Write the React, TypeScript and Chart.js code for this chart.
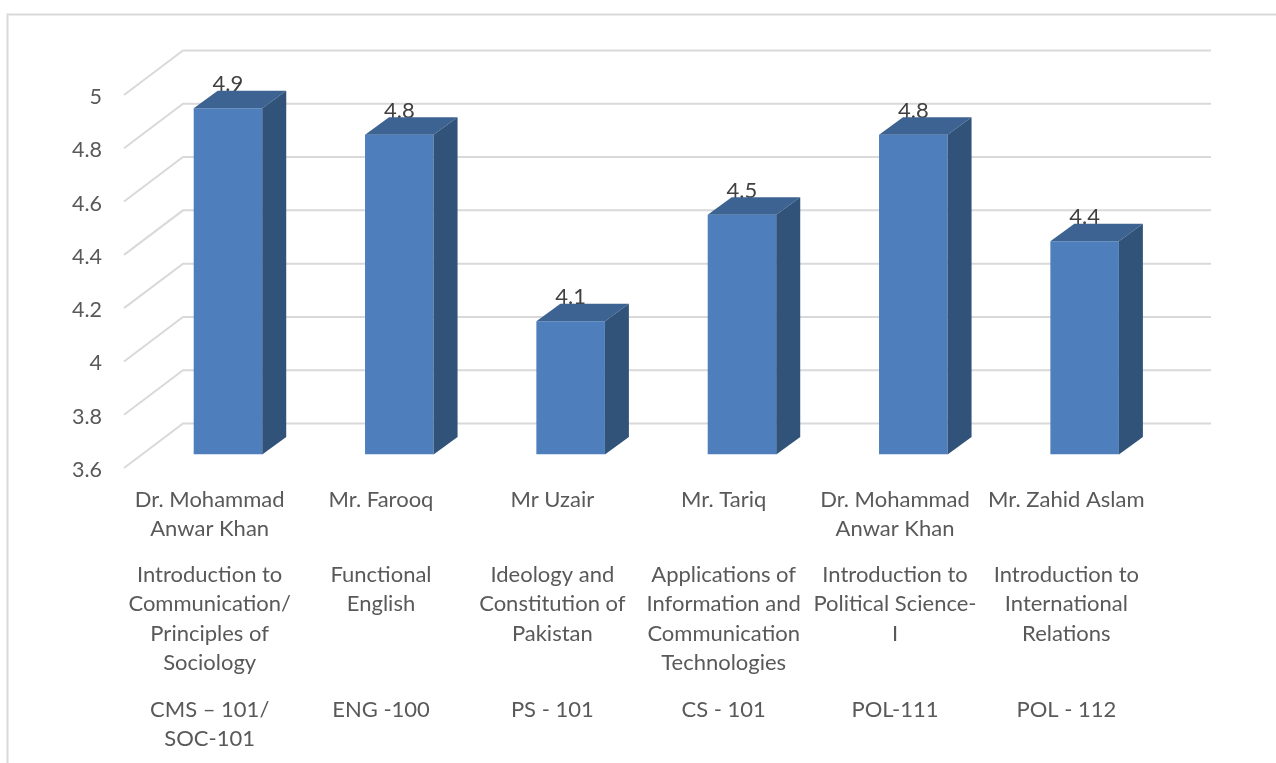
import React, { useEffect, useRef } from "react";
import { Chart, registerables } from "chart.js";

Chart.register(...registerables);

const instructors = [
  ["Dr. Mohammad", "Anwar Khan"],
  "Mr. Farooq",
  "Mr Uzair",
  "Mr. Tariq",
  ["Dr. Mohammad", "Anwar Khan"],
  "Mr. Zahid Aslam",
];
const courses = [
  ["Introduction to", "Communication/", "Principles of", "Sociology"],
  ["Functional", "English"],
  ["Ideology and", "Constitution of", "Pakistan"],
  ["Applications of", "Information and", "Communication", "Technologies"],
  ["Introduction to", "Political Science-", "I"],
  ["Introduction to", "International", "Relations"],
];
const codes = [
  ["CMS – 101/", "SOC-101"],
  "ENG -100",
  "PS - 101",
  "CS - 101",
  "POL-111",
  "POL - 112",
];
const ratings = [4.9, 4.8, 4.1, 4.5, 4.8, 4.4];
const AXIS_MIN = 3.6;
const AXIS_MAX = 5;

const FONT = "Lato, 'Noto Sans', sans-serif";
const GRID = "#d9d9d9";
const WALL_DX = 59;
const WALL_DY = -44.5;
const PLANE_DX = 18.3;
const PLANE_DY = -13.5;
const DEPTH_DX = 24;
const DEPTH_DY = -17.5;

const fakeThreeD = {
  id: "fakeThreeD",
  beforeDraw(chart: any) {
    const { ctx } = chart;
    ctx.save();
    ctx.strokeStyle = GRID;
    ctx.lineWidth = 2;
    ctx.beginPath();
    ctx.moveTo(7.5, 763);
    ctx.lineTo(7.5, 14.5);
    ctx.lineTo(1276, 14.5);
    ctx.stroke();
    ctx.restore();
  },
  beforeDatasetsDraw(chart: any) {
    const { ctx, chartArea, scales } = chart;
    ctx.save();
    ctx.strokeStyle = GRID;
    ctx.lineWidth = 2;
    scales.y.ticks.forEach((t: any) => {
      const y = scales.y.getPixelForValue(t.value);
      ctx.beginPath();
      ctx.moveTo(chartArea.left, y);
      ctx.lineTo(chartArea.left + WALL_DX, y + WALL_DY);
      ctx.lineTo(chartArea.right + WALL_DX, y + WALL_DY);
      ctx.stroke();
    });
    ctx.restore();
    ctx.save();
    ctx.translate(PLANE_DX, PLANE_DY);
  },
  afterDatasetsDraw(chart: any) {
    const { ctx } = chart;
    const meta = chart.getDatasetMeta(0);
    ctx.font = `22px ${FONT}`;
    ctx.fillStyle = "#404040";
    ctx.textAlign = "center";
    ctx.textBaseline = "middle";
    meta.data.forEach((bar: any, i: number) => {
      ctx.fillText(String(ratings[i]), bar.x, bar.y - 24);
    });
    meta.data.forEach((bar: any) => {
      const l = bar.x - bar.width / 2;
      const r = bar.x + bar.width / 2;
      ctx.fillStyle = "#3c6391";
      ctx.beginPath();
      ctx.moveTo(l, bar.y);
      ctx.lineTo(l + DEPTH_DX, bar.y + DEPTH_DY);
      ctx.lineTo(r + DEPTH_DX, bar.y + DEPTH_DY);
      ctx.lineTo(r, bar.y);
      ctx.closePath();
      ctx.fill();
      ctx.fillStyle = "#325379";
      ctx.beginPath();
      ctx.moveTo(r, bar.y);
      ctx.lineTo(r + DEPTH_DX, bar.y + DEPTH_DY);
      ctx.lineTo(r + DEPTH_DX, bar.base + DEPTH_DY);
      ctx.lineTo(r, bar.base);
      ctx.closePath();
      ctx.fill();
    });
    ctx.restore();
  },
};

const labelAxis = (labels: any[], weight: number, height: number, padding: number) => ({
  type: "category",
  position: "bottom",
  labels,
  weight,
  offset: true,
  grid: { display: false, drawTicks: false },
  border: { display: false },
  ticks: {
    autoSkip: false,
    maxRotation: 0,
    minRotation: 0,
    padding,
    color: "#595959",
    font: { family: FONT, size: 22, lineHeight: 1.34 },
  },
  afterFit(scale: any) {
    scale.height = height;
  },
});

export default function App() {
  const ref = useRef<HTMLCanvasElement>(null);
  useEffect(() => {
    const chart = new Chart(ref.current as HTMLCanvasElement, {
      type: "bar",
      data: {
        labels: instructors as any,
        datasets: [
          {
            data: ratings,
            base: AXIS_MIN,
            backgroundColor: "#4e7fbc",
            borderWidth: 0,
            barPercentage: 1,
            categoryPercentage: 0.4,
            xAxisID: "x",
            yAxisID: "y",
          } as any,
        ],
      },
      options: {
        responsive: false,
        animation: false,
        layout: { padding: { left: 0, top: 95, right: 124, bottom: 0 } },
        plugins: { legend: { display: false }, tooltip: { enabled: false } },
        scales: {
          x: labelAxis(instructors, 1, 92, 17),
          x2: labelAxis(courses, 2, 135, 0),
          x3: labelAxis(codes, 3, 68, 0),
          y: {
            type: "linear",
            min: AXIS_MIN,
            max: AXIS_MAX,
            grid: { display: false, drawTicks: false },
            border: { display: false },
            ticks: {
              stepSize: 0.2,
              padding: 22,
              labelOffset: 2,
              color: "#595959",
              font: { family: FONT, size: 21.5 },
              callback: (v: any) => String(Math.round(Number(v) * 10) / 10),
            },
            afterFit(scale: any) {
              scale.width = 124;
            },
          },
        } as any,
      },
      plugins: [fakeThreeD],
    });
    return () => chart.destroy();
  }, []);
  return (
    <div style={{ position: "absolute", left: 0, top: 0, width: 1276, height: 763, background: "#fff", overflow: "hidden" }}>
      <canvas ref={ref} width={1276} height={763} style={{ display: "block" }} />
    </div>
  );
}
